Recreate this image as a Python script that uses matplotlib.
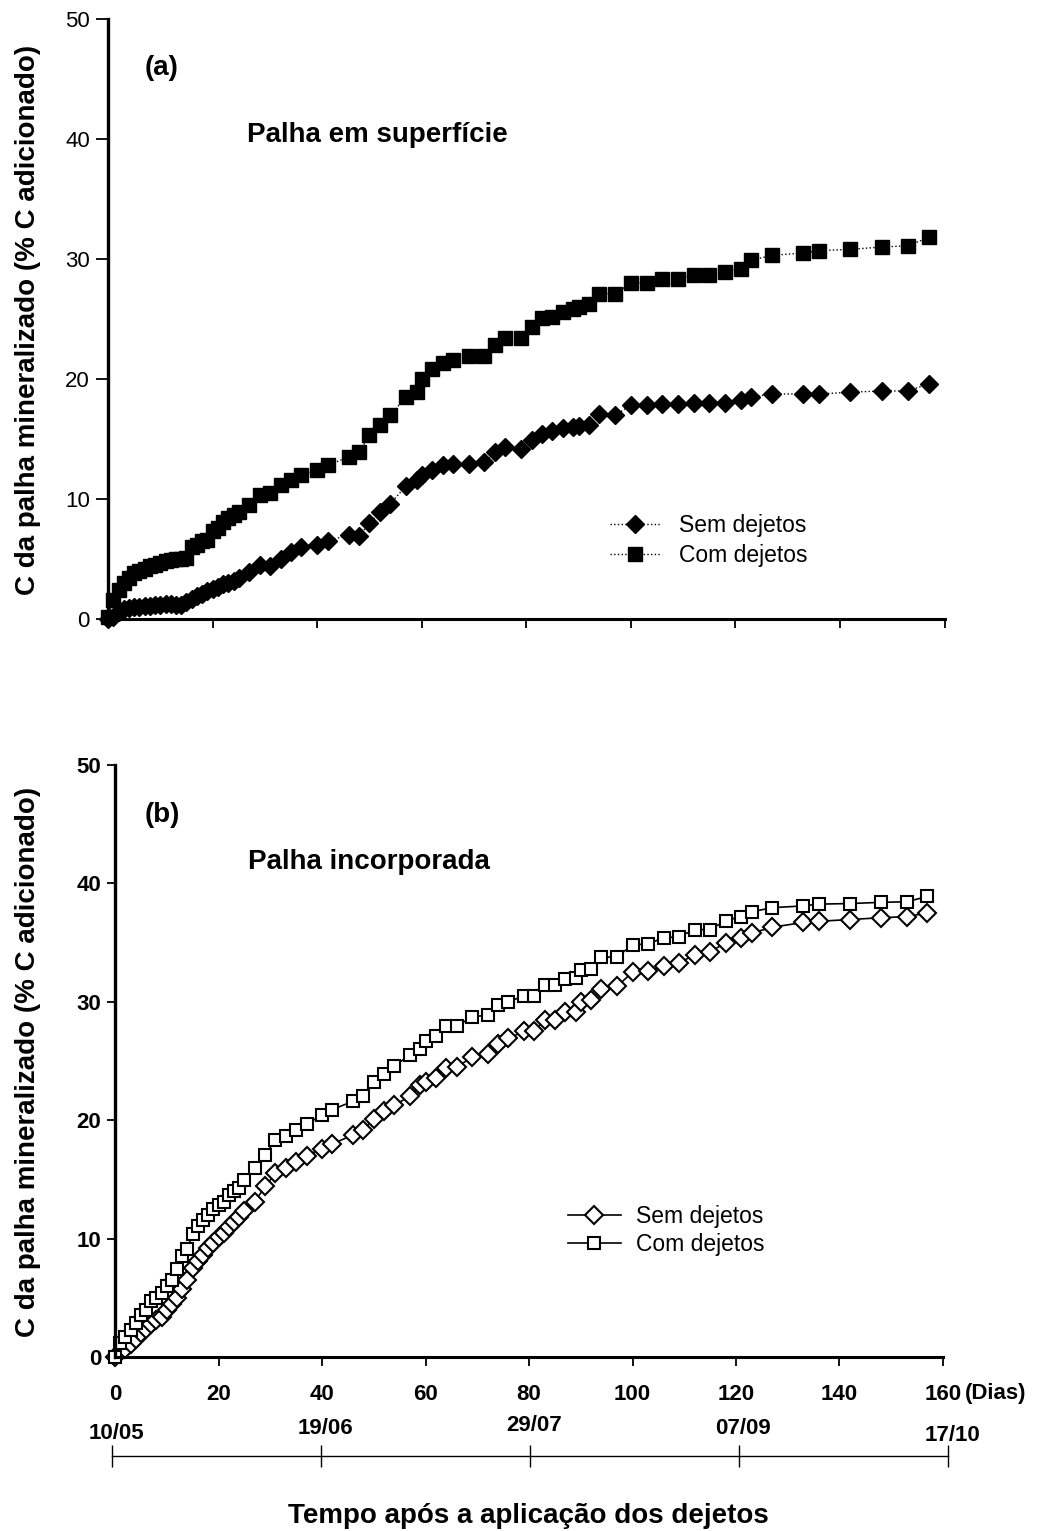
import matplotlib
matplotlib.use("Agg")
import matplotlib.pyplot as plt

plt.rcParams["font.family"] = ["Liberation Sans", "DejaVu Sans"]

# -----------------------------
# DATA (days after slurry application)
# -----------------------------
DAYS = [0, 1, 2, 3, 4, 5, 6, 7, 8, 9, 10, 11, 12, 13, 14, 15, 16, 17, 18, 19,
        20, 21, 22, 23, 24, 25, 27, 29, 31, 33, 35, 37, 40, 42, 46, 48, 50, 52,
        54, 57, 59, 60, 62, 64, 66, 69, 72, 74, 76, 79, 81, 83, 85, 87, 89, 90,
        92, 94, 97, 100, 103, 106, 109, 112, 115, 118, 121, 123, 127, 133, 136,
        142, 148, 153, 157]

# (a) straw on the surface
SUP_SEM = [0, 0.2, 0.6, 0.8, 0.9, 1.0, 1.0, 1.1, 1.1, 1.15, 1.2, 1.25, 1.25, 1.2,
           1.15, 1.4, 1.7, 1.9, 2.1, 2.3, 2.5, 2.7, 2.9, 3.0, 3.2, 3.4, 3.9, 4.5,
           4.4, 5.0, 5.6, 6.0, 6.2, 6.5, 7.0, 6.9, 8.0, 8.9, 9.6, 11.1, 11.6, 12.0,
           12.4, 12.8, 12.9, 12.9, 13.1, 13.9, 14.3, 14.2, 14.9, 15.4, 15.7, 15.9,
           16.0, 16.1, 16.2, 17.1, 17.0, 17.8, 17.8, 17.9, 17.9, 18.0, 18.0, 18.0,
           18.25, 18.5, 18.75, 18.75, 18.75, 18.9, 19.0, 19.0, 19.6]
SUP_COM = [0.2, 1.6, 2.4, 3.0, 3.4, 3.8, 4.0, 4.2, 4.4, 4.5, 4.7, 4.8, 4.9, 5.0,
           5.0, 5.1, 6.0, 6.2, 6.5, 6.6, 7.3, 7.6, 8.1, 8.4, 8.7, 8.9, 9.5, 10.3,
           10.5, 11.2, 11.6, 12.0, 12.4, 12.8, 13.5, 13.9, 15.3, 16.2, 17.0, 18.5,
           18.9, 20.0, 20.8, 21.3, 21.6, 21.9, 21.9, 22.8, 23.4, 23.4, 24.3, 25.1,
           25.2, 25.6, 25.8, 26.0, 26.25, 27.1, 27.1, 28.0, 28.0, 28.3, 28.3, 28.7,
           28.7, 28.9, 29.2, 29.9, 30.3, 30.5, 30.7, 30.8, 31.0, 31.1, 31.8]

# (b) incorporated straw
INC_SEM = [0, 0.4, 0.7, 1.1, 1.5, 2.0, 2.4, 2.8, 3.1, 3.4, 4.0, 4.5, 4.95, 5.7,
           6.5, 7.5, 8.1, 8.6, 9.2, 9.6, 10.1, 10.5, 11.0, 11.4, 11.8, 12.3, 13.1,
           14.4, 15.5, 16.0, 16.5, 17.0, 17.6, 18.0, 18.75, 19.2, 20.1, 20.8, 21.3,
           22.0, 23.0, 23.2, 23.6, 24.4, 24.5, 25.3, 25.6, 26.4, 26.9, 27.5, 27.5,
           28.5, 28.5, 29.1, 29.1, 30.0, 30.15, 31.1, 31.3, 32.5, 32.6, 33.0, 33.3,
           33.95, 34.2, 35.0, 35.4, 35.8, 36.3, 36.7, 36.8, 36.95, 37.1, 37.2, 37.5]
INC_COM = [0, 1.15, 1.7, 2.3, 2.85, 3.55, 4.0, 4.7, 5.0, 5.4, 6.0, 6.5, 7.4, 8.5,
           9.1, 10.4, 11.1, 11.6, 12.0, 12.5, 12.8, 13.1, 13.7, 14.0, 14.3, 14.95,
           16.0, 17.1, 18.3, 18.7, 19.2, 19.7, 20.4, 20.9, 21.6, 22.0, 23.25, 23.9,
           24.6, 25.5, 26.0, 26.7, 27.1, 27.95, 27.95, 28.7, 28.9, 29.7, 30.0, 30.5,
           30.5, 31.4, 31.4, 31.9, 32.0, 32.7, 32.8, 33.75, 33.8, 34.8, 34.9, 35.4,
           35.5, 36.1, 36.1, 36.85, 37.2, 37.6, 37.95, 38.1, 38.25, 38.3, 38.4,
           38.45, 38.9]

X_TICKS = [0, 20, 40, 60, 80, 100, 120, 140, 160]
Y_TICKS = [0, 10, 20, 30, 40, 50]
DATE_DAYS = [0, 40, 80, 120, 160]
DATE_LABELS = ["10/05", "19/06", "29/07", "07/09", "17/10"]

YLABEL = "C da palha mineralizado (% C adicionado)"
XLABEL = "Tempo após a aplicação dos dejetos"

# -----------------------------
# Figure
# -----------------------------
fig = plt.figure(figsize=(10.43, 15.31), dpi=100)
ax_a = fig.add_axes([0.1036, 0.5957, 0.8020, 0.3919])
ax_b = fig.add_axes([0.1103, 0.1137, 0.7938, 0.3866])


def style_axes(ax, bold, ylen):
    ax.set_xlim(0, 160)
    ax.set_ylim(0, 50)
    ax.set_xticks(X_TICKS)
    ax.set_yticks(Y_TICKS)
    for s in ["top", "right"]:
        ax.spines[s].set_visible(False)
    ax.spines["left"].set_linewidth(2.4)
    ax.spines["bottom"].set_linewidth(2.2)
    ax.tick_params(direction="out", width=1.3, labelsize=16)
    ax.tick_params(axis="y", length=ylen, pad=4)
    ax.tick_params(axis="x", length=6.5)
    if bold:
        for lab in ax.get_xticklabels() + ax.get_yticklabels():
            lab.set_fontweight("bold")


# ---- panel (a)
ax_a.plot(DAYS, SUP_SEM, linestyle=":", color="black", lw=1, marker="D",
          ms=9.5, mfc="black", mec="black", clip_on=False, label="Sem dejetos")
ax_a.plot(DAYS, SUP_COM, linestyle=":", color="black", lw=1, marker="s",
          ms=10, mfc="black", mec="black", clip_on=False, label="Com dejetos")
style_axes(ax_a, bold=False, ylen=9)
ax_a.tick_params(axis="x", labelbottom=False)
ax_a.text(0.044, 0.918, "(a)", transform=ax_a.transAxes, fontsize=20,
          fontweight="bold", va="center")
ax_a.text(0.166, 0.807, "Palha em superfície", transform=ax_a.transAxes,
          fontsize=20, fontweight="bold", va="center")
ax_a.legend(loc="upper left", bbox_to_anchor=(0.600, 0.175), frameon=False,
            fontsize=16.5, handlelength=2.2, handletextpad=0.8,
            labelspacing=0.3, borderpad=0, borderaxespad=0)

# ---- panel (b)
ax_b.plot(DAYS, INC_SEM, linestyle="-", color="black", lw=1.2, marker="D",
          ms=9, mfc="white", mec="black", mew=1.5, clip_on=False,
          label="Sem dejetos")
ax_b.plot(DAYS, INC_COM, linestyle="-", color="black", lw=1.2, marker="s",
          ms=9, mfc="white", mec="black", mew=1.5, clip_on=False,
          label="Com dejetos")
style_axes(ax_b, bold=True, ylen=6)
ax_b.tick_params(axis="x", pad=13)
ax_b.text(1.027, -0.061, "(Dias)", transform=ax_b.transAxes, fontsize=16,
          fontweight="bold", va="center")
ax_b.text(0.036, 0.916, "(b)", transform=ax_b.transAxes, fontsize=20,
          fontweight="bold", va="center")
ax_b.text(0.161, 0.836, "Palha incorporada", transform=ax_b.transAxes,
          fontsize=20, fontweight="bold", va="center")
ax_b.legend(loc="upper left", bbox_to_anchor=(0.547, 0.256), frameon=False,
            fontsize=16.5, handlelength=2.3, handletextpad=0.65,
            labelspacing=0.2, borderpad=0, borderaxespad=0)

# ---- y labels
fig.text(0.0268, 0.791, YLABEL, rotation=90, fontsize=20, fontweight="bold",
         ha="center", va="center")
fig.text(0.0268, 0.3063, YLABEL, rotation=90, fontsize=20, fontweight="bold",
         ha="center", va="center")

# ---- calendar date axis
ax_d = fig.add_axes([0.1074, 0.0490, 0.8015, 0.001])
ax_d.set_xlim(0, 160)
ax_d.set_ylim(0, 1)
for s in ["top", "right", "left"]:
    ax_d.spines[s].set_visible(False)
ax_d.spines["bottom"].set_linewidth(1.0)
ax_d.set_yticks([])
ax_d.set_xticks(DATE_DAYS)
ax_d.tick_params(axis="x", direction="inout", length=16, width=1.0,
                 labelbottom=False)
date_dy = [16.5, 20, 22.3, 20, 15]
for i, (d, lab) in enumerate(zip(DATE_DAYS, DATE_LABELS)):
    ax_d.annotate(lab, xy=(d, 0), xytext=(3, date_dy[i]),
                  textcoords="offset points", fontsize=16, fontweight="bold",
                  ha="center", va="center")

fig.text(0.507, 0.0095, XLABEL, fontsize=20, fontweight="bold",
         ha="center", va="center")

fig.savefig("out.png", dpi=100)
